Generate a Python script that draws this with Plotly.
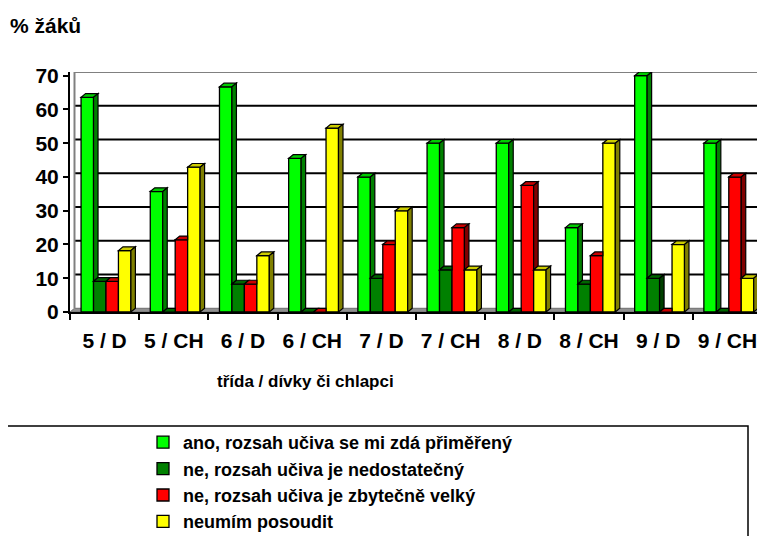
import plotly.graph_objects as go
import numpy as np

categories = ["5 / D", "5 / CH", "6 / D", "6 / CH", "7 / D", "7 / CH", "8 / D", "8 / CH", "9 / D", "9 / CH"]
series_names = [
    "ano, rozsah učiva se mi zdá přiměřený",
    "ne, rozsah učiva je nedostatečný",
    "ne, rozsah učiva je zbytečně velký",
    "neumím posoudit",
]
ano_primereny = [63.6, 35.7, 66.7, 45.5, 40.0, 50.0, 50.0, 25.0, 70.0, 50.0]
ne_nedostatecny = [9.1, 0.0, 8.3, 0.0, 10.0, 12.5, 0.0, 8.3, 10.0, 0.0]
ne_zbytecne_velky = [9.1, 21.4, 8.3, 0.0, 20.0, 25.0, 37.5, 16.7, 0.0, 40.0]
neumim_posoudit = [18.2, 42.9, 16.7, 54.5, 30.0, 12.5, 12.5, 50.0, 20.0, 10.0]
y_ticks = [0, 10, 20, 30, 40, 50, 60, 70]

series = [ano_primereny, ne_nedostatecny, ne_zbytecne_velky, neumim_posoudit]
front_colors = ["#00FF00", "#008000", "#FF0000", "#FFFF00"]
top_colors = ["#00CC00", "#006600", "#CC0000", "#CCCC00"]
side_colors = ["#008000", "#004000", "#800000", "#808000"]

FONT = "Arial, Liberation Sans, sans-serif"
w = 0.18
start = -0.34
dx = 0.065
dy = 1.1
xmax = -0.5 + 695 / 69.2

fig = go.Figure()
idx = np.arange(len(categories))
for k, (name, vals) in enumerate(zip(series_names, series)):
    fig.add_trace(go.Bar(
        x=idx + start + w * (k + 0.5), y=vals, width=w, name=name,
        marker=dict(color=front_colors[k], line=dict(color="black", width=1.3)),
        legendgroup=str(k),
    ))

shapes = []
shapes.append(dict(type="path", xref="x", yref="y", layer="below",
                   path=f"M -0.5 0 L {xmax} 0 L {xmax} {dy} L {-0.5+dx} {dy} Z",
                   fillcolor="#909090", line=dict(color="#707070", width=1)))
for v in y_ticks[1:]:
    col = "#808080" if v == 70 else "black"
    shapes.append(dict(type="line", xref="x", yref="y", layer="below",
                       x0=-0.5 + dx, x1=xmax, y0=v + dy, y1=v + dy,
                       line=dict(color=col, width=2)))
shapes.append(dict(type="line", xref="x", yref="y", layer="below",
                   x0=-0.5 + dx, x1=-0.5 + dx, y0=dy, y1=70 + dy,
                   line=dict(color="#808080", width=2)))

for i in range(len(categories)):
    for k in range(4):
        v = series[k][i]
        l = i + start + w * k
        r = l + w
        vn = series[k + 1][i] if k < 3 else None
        if vn is not None and vn >= v + dy:
            p = f"M {l} {v} L {r} {v} L {r} {v+dy} L {l+dx} {v+dy} Z"
        else:
            p = f"M {l} {v} L {r} {v} L {r+dx} {v+dy} L {l+dx} {v+dy} Z"
        shapes.append(dict(type="path", xref="x", yref="y", path=p,
                           fillcolor=top_colors[k], line=dict(color="black", width=1.2)))
        base = 0 if vn is None else vn
        if v > base:
            p = f"M {r} {base} L {r+dx} {base+dy} L {r+dx} {v+dy} L {r} {v} Z"
            shapes.append(dict(type="path", xref="x", yref="y", path=p,
                               fillcolor=side_colors[k], line=dict(color="black", width=1.2)))

shapes.append(dict(type="rect", xref="paper", yref="paper",
                   x0=(6 - 70) / 695, x1=(748 - 70) / 695,
                   y0=(312 - 545) / 240, y1=(312 - 426) / 240,
                   line=dict(color="black", width=1.5), fillcolor="rgba(0,0,0,0)"))

fig.update_layout(
    width=757, height=528,
    margin=dict(l=62, r=0, t=64, b=224, autoexpand=False),
    paper_bgcolor="white", plot_bgcolor="white",
    barmode="overlay", showlegend=True,
    font=dict(family=FONT, color="black", size=17, weight="bold"),
    shapes=shapes,
    xaxis=dict(range=[-0.5, xmax], tickmode="array", tickvals=list(idx), ticktext=categories,
               ticks="outside", ticklen=9, tickcolor="rgba(0,0,0,0)", automargin=False,
               showgrid=False, zeroline=False, showline=True, linecolor="black", linewidth=2,
               tickfont=dict(family=FONT, size=21, weight="bold"),
               minor=dict(tickmode="array", tickvals=[j - 0.5 for j in range(11)],
                          ticks="outside", ticklen=6, tickcolor="black", tickwidth=2)),
    yaxis=dict(range=[0, 70 + dy], tickmode="array", tickvals=y_ticks, automargin=False,
               ticks="outside", ticklen=5, tickcolor="black", tickwidth=2,
               showgrid=False, zeroline=False, showline=True, linecolor="black", linewidth=2,
               tickfont=dict(family=FONT, size=21, weight="bold")),
    legend=dict(x=(143 - 70) / 695, y=(312 - 424) / 240, xanchor="left", yanchor="top",
                bgcolor="rgba(0,0,0,0)", borderwidth=0, traceorder="grouped",
                tracegroupgap=0, font=dict(family=FONT, size=18, weight="bold")),
    annotations=[
        dict(text="% žáků", xref="paper", yref="paper", x=(8 - 70) / 695, y=(312 - 25) / 240,
             xanchor="left", yanchor="middle", showarrow=False,
             font=dict(family=FONT, size=21, weight="bold")),
        dict(text="třída / dívky či chlapci", xref="paper", yref="paper",
             x=(305 - 70) / 695, y=(312 - 381) / 240, xanchor="center", yanchor="middle",
             showarrow=False, font=dict(family=FONT, size=17, weight="bold")),
    ],
)

fig.write_html("out.html")
